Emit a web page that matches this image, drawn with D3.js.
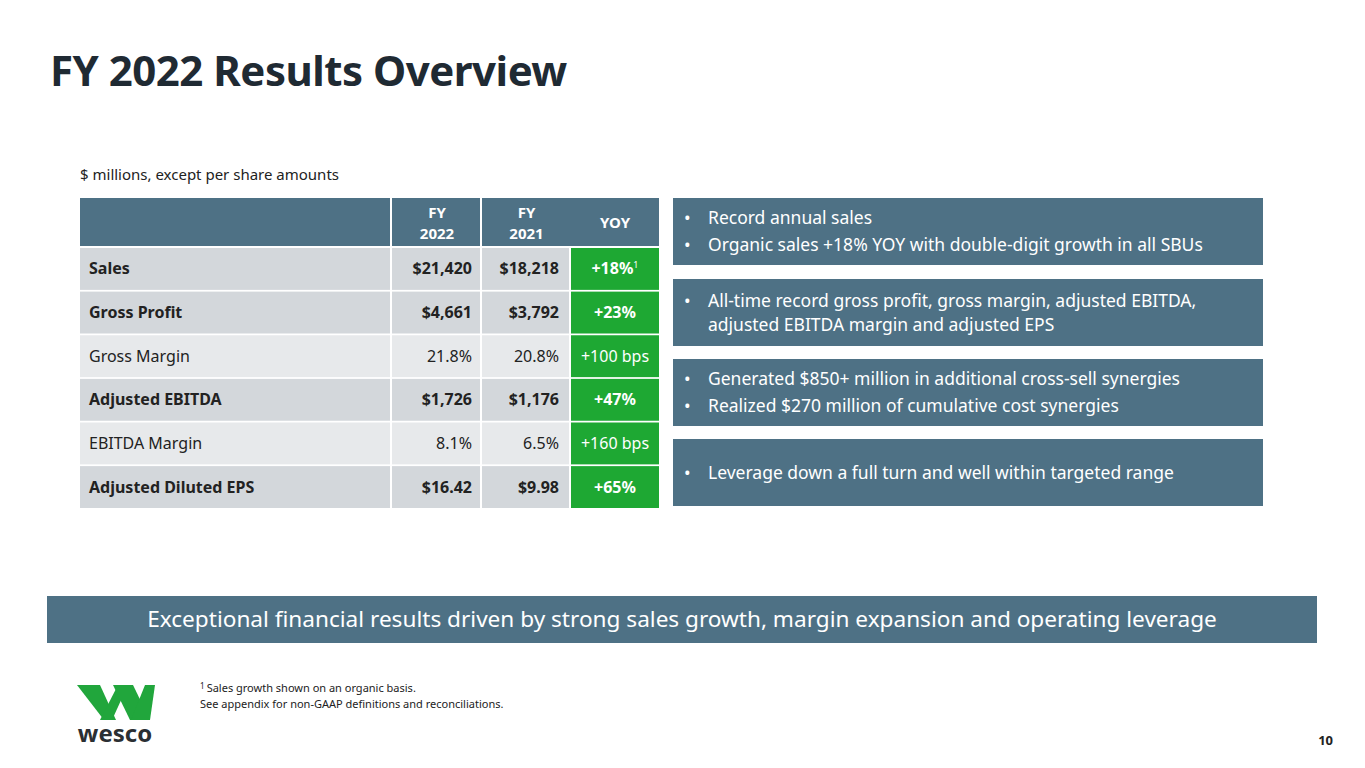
<!DOCTYPE html>
<html><head><meta charset="utf-8">
<script src="https://cdn.jsdelivr.net/npm/d3@7"></script>
<style>body{margin:0;background:#fff;font-family:"Source Sans Pro","Noto Sans",sans-serif}</style>
</head><body><svg id="s" width="1365" height="768"></svg>
<script>
const columns = ["", "FY\n2022", "FY\n2021", "YOY"];
const metrics = ["Sales", "Gross Profit", "Gross Margin", "Adjusted EBITDA", "EBITDA Margin", "Adjusted Diluted EPS"];
const fy2022 = ["$21,420", "$4,661", "21.8%", "$1,726", "8.1%", "$16.42"];
const fy2021 = ["$18,218", "$3,792", "20.8%", "$1,176", "6.5%", "$9.98"];
const yoy = ["+18%", "+23%", "+100 bps", "+47%", "+160 bps", "+65%"];
const boldRow = [true, true, false, true, false, true];
const bullets = [
  ["Record annual sales", "Organic sales +18% YOY with double-digit growth in all SBUs"],
  ["All-time record gross profit, gross margin, adjusted EBITDA,\nadjusted EBITDA margin and adjusted EPS"],
  ["Generated $850+ million in additional cross-sell synergies", "Realized $270 million of cumulative cost synergies"],
  ["Leverage down a full turn and well within targeted range"]
];

const svg = d3.select("#s");
const blue = "#4e7185", green = "#1ea833", font = '"Noto Sans",sans-serif';

svg.append("text").attr("x", 50).attr("y", 86).attr("font-size", 42).attr("font-weight", 700)
  .attr("fill", "#1f2a33").attr("font-family", font).attr("letter-spacing", -0.5).text("FY 2022 Results Overview");
svg.append("text").attr("x", 80).attr("y", 180).attr("font-size", 15).attr("fill", "#222")
  .attr("font-family", font).text("$ millions, except per share amounts");

// table
const colX = [80, 392, 482, 571, 659];
const y = d3.scaleBand().domain(d3.range(metrics.length)).range([248, 508]).paddingInner(0.04);
svg.append("rect").attr("x", 80).attr("y", 198).attr("width", 579).attr("height", 48).attr("fill", blue);
[1, 2].forEach(i => svg.append("line").attr("x1", colX[i] - 1).attr("x2", colX[i] - 1).attr("y1", 198).attr("y2", 246).attr("stroke", "#fff").attr("stroke-width", 2));
columns.forEach((c, i) => {
  if (!c) return;
  const lines = c.split("\n");
  const t = svg.append("text").attr("x", (colX[i] + colX[i + 1]) / 2).attr("text-anchor", "middle")
    .attr("font-size", 15).attr("font-weight", 700).attr("fill", "#fff").attr("font-family", font);
  lines.forEach((l, k) => t.append("tspan").attr("x", (colX[i] + colX[i + 1]) / 2)
    .attr("y", 222 + 6 + (k - (lines.length - 1) / 2) * 21).text(l));
});

metrics.forEach((m, i) => {
  const ry = y(i), h = y.bandwidth();
  const bg = boldRow[i] ? "#d3d7db" : "#e7e9eb";
  const fw = boldRow[i] ? 700 : 400;
  [[0, 1], [1, 2], [2, 3]].forEach(([a, b]) => svg.append("rect").attr("x", colX[a]).attr("y", ry)
    .attr("width", colX[b] - colX[a] - 2).attr("height", h).attr("fill", bg));
  svg.append("rect").attr("x", colX[3]).attr("y", ry).attr("width", colX[4] - colX[3]).attr("height", h).attr("fill", green);
  const cy = ry + h / 2 + 5.5;
  const txt = (x, s, anchor, fill) => svg.append("text").attr("x", x).attr("y", cy).attr("text-anchor", anchor)
    .attr("font-size", 16).attr("font-weight", fw).attr("fill", fill).attr("font-family", font).text(s);
  txt(89, m, "start", "#222");
  txt(colX[2] - 10, fy2022[i], "end", "#222");
  txt(colX[3] - 12, fy2021[i], "end", "#222");
  const t = txt((colX[3] + colX[4]) / 2, yoy[i], "middle", "#fff");
  if (i === 0) t.append("tspan").attr("font-size", 9).attr("font-weight", 400).attr("dy", -6).text("1");
});

// bullet boxes
const boxY = [198, 279, 359, 439];
bullets.forEach((b, i) => {
  svg.append("rect").attr("x", 673).attr("y", boxY[i]).attr("width", 590).attr("height", 67).attr("fill", blue);
  const lines = [];
  b.forEach(s => s.split("\n").forEach((l, k) => lines.push({ l, first: k === 0 })));
  const gap = b.length > 1 ? 27 : 24;
  lines.forEach((o, k) => {
    const ly = boxY[i] + 33.5 + 6 + (k - (lines.length - 1) / 2) * gap;
    if (o.first) svg.append("text").attr("x", 684).attr("y", ly).attr("font-size", 17.5).attr("fill", "#fff").attr("font-family", font).text("•");
    svg.append("text").attr("x", 708).attr("y", ly).attr("font-size", 17.5).attr("fill", "#fff").attr("font-family", font).text(o.l);
  });
});

// banner
svg.append("rect").attr("x", 47).attr("y", 596).attr("width", 1270).attr("height", 47).attr("fill", blue);
svg.append("text").attr("x", 682).attr("y", 627).attr("text-anchor", "middle").attr("font-size", 22.6).attr("fill", "#fff")
  .attr("font-family", font).text("Exceptional financial results driven by strong sales growth, margin expansion and operating leverage");

// footnote
const fn = svg.append("text").attr("x", 200).attr("y", 692).attr("font-size", 11).attr("fill", "#222").attr("font-family", font);
fn.append("tspan").attr("font-size", 8).attr("dy", -3).text("1 ");
fn.append("tspan").attr("dy", 3).text("Sales growth shown on an organic basis.");
svg.append("text").attr("x", 200).attr("y", 708).attr("font-size", 11).attr("fill", "#222").attr("font-family", font)
  .text("See appendix for non-GAAP definitions and reconciliations.");

// logo
const lg = svg.append("g").attr("fill", "#21a63c");
[[[77,685],[100,685],[116,720],[104,720]],[[100,720],[118,685],[128,685],[112,720]],[[113,685],[133,685],[150,720],[130,720]],[[131,720],[145,685],[155,685],[150,720]]]
  .forEach(p => lg.append("polygon").attr("points", p.join(" ")));
svg.append("text").attr("x", 115).attr("y", 742).attr("text-anchor", "middle").attr("font-size", 24).attr("font-weight", 700)
  .attr("fill", "#2b2f33").attr("font-family", font).text("wesco");

svg.append("text").attr("x", 1333).attr("y", 745).attr("text-anchor", "end").attr("font-size", 13).attr("font-weight", 700)
  .attr("fill", "#222").attr("font-family", font).text("10");
</script></body></html>
